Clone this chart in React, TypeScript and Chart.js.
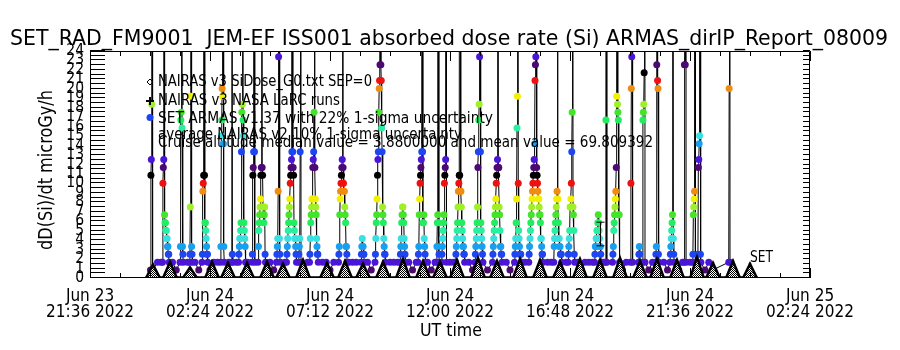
import React, { useEffect, useRef } from 'react';
import { Chart, registerables } from 'chart.js';
Chart.register(...registerables);

// ---------- text ----------
const titleText = 'SET_RAD_FM9001  JEM-EF ISS001 absorbed dose rate (Si) ARMAS_dirIP_Report_08009';
const xAxisTitle = 'UT time';
const yAxisTitle = 'dD(Si)/dt microGy/h';
const legendTexts = [
  'NAIRAS v3 SiDose_G0.txt SEP=0',
  'NAIRAS v3 NASA LaRC runs',
  'SET ARMAS v1.37 with 22% 1-sigma uncertainty',
  'average NAIRAS v2 10% 1-sigma uncertainty',
  'Cruise altitude median value = 3.8800000 and mean value = 69.809392',
];
const endLabel = 'SET';

// ---------- axes (x in hours since Jun 23 2022 21:36 UT) ----------
const xTickHours = [0, 4.8, 9.6, 14.4, 19.2, 24, 28.8];
const xTickLabels = [
  ['Jun 23', '21:36 2022'],
  ['Jun 24', '02:24 2022'],
  ['Jun 24', '07:12 2022'],
  ['Jun 24', '12:00 2022'],
  ['Jun 24', '16:48 2022'],
  ['Jun 24', '21:36 2022'],
  ['Jun 25', '02:24 2022'],
];
const yMin = 0;
const yMax = 24;

// ---------- SET ARMAS data ----------
const doseStep = 0.835; // microGy/h per count level
const setSampleMinutes = 1;
const setPassStartHours = [
  2.42, 2.9, 3.6, 3.98, 4.48, 5.22, 5.66, 5.94, 6.48, 6.72,
  7.46, 7.86, 8.34, 8.78, 9.94, 10.84, 11.4, 12.4, 13.12, 13.86,
  14.06, 14.62, 15.4, 16.1, 16.98, 17.55, 18.55, 19.12, 20.18, 20.62,
  20.9, 21.62, 21.94, 22.1, 22.62, 23.2, 23.76, 24.1, 24.3, 25.55,
];
const setPassCounts = [
  [1, 13, 15, 22, 200, 1],
  [2, 12, 14, 15, 200, 8, 7, 7, 6, 6, 5, 5, 4, 4, 3, 3, 2],
  [2, 4, 20, 21, 150, 19, 4, 3, 2],
  [2, 3, 9, 23, 200, 4, 3, 2],
  [2, 3, 11, 12, 13, 200, 13, 7, 7, 6, 5, 4, 3, 3, 2],
  [2, 4, 18, 20, 24, 23, 200, 17, 4, 2],
  [2, 200, 3, 2],
  [2, 3, 4, 5, 5, 6, 7, 16, 21, 22, 200, 20, 18, 7, 6, 5, 4, 2],
  [2, 3, 13, 14, 16, 200, 16, 2],
  [2, 4, 6, 7, 8, 9, 10, 13, 14, 300, 14, 13, 9, 8, 7, 8, 9, 3, 2],
  [2, 3, 4, 5, 11, 28, 300, 5, 3, 2],
  [2, 3, 4, 5, 6, 7, 8, 9, 10, 12, 13, 14, 15, 16, 300, 16, 14, 13, 7, 6, 5, 5, 4, 3, 2],
  [2, 3, 4, 5, 16, 200, 2],
  [2, 3, 5, 7, 8, 9, 10, 10, 14, 15, 16, 21, 200, 14, 10, 9, 8, 5, 4, 3, 3, 2],
  [2, 3, 4, 8, 10, 11, 12, 13, 14, 15, 300, 14, 12, 11, 11, 9, 8, 7, 4, 4, 3, 2],
  [2, 3, 4, 5, 4, 4, 3, 3, 2],
  [2, 3, 5, 7, 8, 10, 13, 15, 16, 21, 24, 25, 27, 300, 27, 25, 19, 16, 9, 8, 7, 5, 4, 3, 3, 2],
  [2, 3, 4, 5, 7, 8, 9, 9, 8, 7, 5, 4, 3, 2],
  [2, 3, 4, 8, 10, 12, 13, 14, 15, 16, 200, 16, 7, 7, 8, 5, 4, 3, 2],
  [2, 4, 7, 8, 200, 7, 3, 2],
  [2, 3, 4, 5, 6, 7, 8, 12, 13, 14, 15, 300, 2],
  [2, 3, 4, 5, 6, 7, 9, 11, 12, 13, 13, 200, 11, 11, 9, 7, 6, 5, 4, 4, 3, 3, 2],
  [2, 3, 4, 5, 6, 7, 9, 14, 16, 20, 22, 28, 300, 16, 7, 6, 5, 4, 3, 2],
  [2, 3, 4, 5, 6, 7, 8, 9, 10, 12, 13, 14, 15, 300, 14, 14, 9, 8, 6, 4, 4, 3, 3, 2],
  [2, 3, 4, 5, 7, 10, 19, 23, 200, 12, 6, 5, 4, 3, 3, 3, 2],
  [2, 3, 4, 5, 6, 7, 8, 9, 10, 11, 12, 13, 14, 15, 17, 25, 27, 28, 300, 14, 13, 12, 11, 10, 10, 9, 8, 8, 7, 5, 5, 4, 3, 3, 2],
  [2, 4, 5, 6, 7, 8, 9, 10, 11, 200, 10, 7, 5, 5, 4, 4, 3, 3, 3, 2],
  [2, 3, 4, 5, 6, 9, 9, 10, 12, 16, 21, 200, 9, 8, 6, 3, 2],
  [2, 3, 4, 4, 5, 5, 6, 6, 7, 8, 7, 6, 5, 4, 4, 3, 2],
  [2, 20, 200, 2],
  [2, 3, 4, 6, 7, 8, 9, 10, 11, 14, 23, 200, 22, 21, 20, 8, 8, 2],
  [2, 12, 24, 28, 200, 2],
  [2, 3, 4, 3, 2],
  [2, 20, 21, 22, 26, 200, 2],
  [2, 3, 4, 27, 200, 25, 24, 3, 2],
  [2, 3, 4, 5, 6, 7, 8, 200, 5, 3, 2],
  [2, 27, 200, 27, 200, 2],
  [2, 3, 8, 9, 10, 11, 200, 2],
  [2, 3, 14, 15, 17, 18, 200, 3, 2],
  [2, 24, 200, 2],
];
const setQuietStartHour = 2.55;
const setQuietStepHours = 0.15;
const setQuietCounts = [
  1, 2, 2, 1, 2, 2, 1, 2, 1, 2,
  2, 2, 1, 2, 2, 1, 2, 2, 2, 1,
  2, 1, 2, 2, 1, 2, 2, 2, 1, 2,
  2, 2, 1, 2, 1, 2, 2, 2, 1, 2,
  1, 2, 2, 2, 1, 2, 2, 1, 2, 2,
  2, 1, 2, 2, 2, 1, 2, 2, 1, 2,
  2, 2, 1, 2, 2, 2, 1, 2, 2, 1,
  2, 1, 2, 2, 1, 2, 2, 2, 1, 2,
  2, 2, 1, 2, 2, 1, 2, 2, 2, 1,
  2, 1, 2, 2, 2, 1, 2, 1, 2, 2,
  1, 2, 2, 1, 2, 2, 2, 1, 2, 2,
  2, 2, 1, 2, 1, 2, 2, 2, 1, 2,
  2, 1, 2, 2, 2, 1, 2, 2, 1, 2,
  2, 2, 1, 2, 2, 1, 2, 1, 2, 2,
  1, 2, 2, 2, 1, 2, 2, 1, 2, 1,
];
const errorBarHour = 20.4;
const errorBarLow = 3.4;
const errorBarHigh = 5.9;

// ---------- NAIRAS model ----------
const nairasPeakHours = [
  2.52, 3.2, 4.0, 4.88, 5.52, 6.28, 7.08, 7.72, 8.52, 9.48,
  10.2, 10.92, 11.72, 12.52, 13.32, 14.0, 14.68, 15.52, 16.28, 17.2,
  18.0, 18.8, 19.6, 20.4, 21.2, 22.0, 22.68, 23.48, 24.28, 24.92,
  25.72, 26.4,
];
const nairasPeakDose = [
  1.4, 1.7, 1.1, 1.7, 1.6, 1.6, 1.7, 1.5, 1.9, 1.6,
  1.8, 1.5, 1.7, 2.0, 1.8, 1.7, 1.9, 2.1, 1.8, 2.0,
  1.9, 1.7, 2.0, 1.9, 2.1, 1.8, 2.0, 1.9, 2.2, 1.6,
  1.8, 1.5,
];
const nairasFloorDose = 0.05;
const nairasHalfWidthHours = 0.27;

// ---------- styles ----------
const levelPalette = [
  '#4c0873', '#4a16d6', '#1e46f0', '#18a0f0', '#38e0e0', '#28f0a0', '#22ec60',
  '#44e42a', '#a0f028', '#f0f000', '#f08c10', '#f01010', '#000000',
];
const FONT = '"DejaVu Sans Condensed", "DejaVu Sans"';

function levelColor(v: number) {
  const n = Math.round(v / doseStep);
  const idx = (((n - 1) % 13) + 13) % 13;
  return levelPalette[idx];
}

function fitText(ctx: CanvasRenderingContext2D, text: string, x: number, y: number, width: number, size: number, align: 'left' | 'center', rotate = 0) {
  ctx.save();
  ctx.font = `${size}px ${FONT}`;
  const w = ctx.measureText(text).width;
  ctx.translate(x, y);
  if (rotate) ctx.rotate(rotate);
  ctx.scale(width / w, 1);
  ctx.textAlign = align;
  ctx.textBaseline = 'alphabetic';
  ctx.fillStyle = '#000';
  ctx.fillText(text, 0, 0);
  ctx.restore();
}

const overlayPlugin = {
  id: 'overlay',
  afterDraw(chart: any) {
    const { ctx, chartArea: a } = chart;
    const xs = chart.scales.x;
    const ys = chart.scales.y;
    ctx.save();
    ctx.strokeStyle = '#000';
    ctx.lineWidth = 1;
    // frame
    ctx.beginPath();
    ctx.rect(Math.round(a.left) + 0.5, Math.round(a.top) + 0.5, Math.round(a.right - a.left) - 1, Math.round(a.bottom - a.top) - 1);
    ctx.stroke();
    // y ticks
    ctx.beginPath();
    for (let k = 0; k <= (yMax - yMin) * 2; k++) {
      const py = Math.round(ys.getPixelForValue(yMin + k / 2)) - 0.5;
      ctx.moveTo(a.left, py); ctx.lineTo(a.left + 15, py);
      ctx.moveTo(a.right - 7, py); ctx.lineTo(a.right, py);
    }
    // x ticks
    const span = xTickHours[xTickHours.length - 1];
    for (let k = 0; k <= 24; k++) {
      const h = (span * k) / 24;
      const px = Math.round(xs.getPixelForValue(h)) + 0.5;
      const len = k % 4 === 0 ? 10 : 5;
      ctx.moveTo(px, a.bottom); ctx.lineTo(px, a.bottom - len);
      ctx.moveTo(px, a.top); ctx.lineTo(px, a.top + len);
    }
    ctx.stroke();
    // error bar
    const ex = Math.round(xs.getPixelForValue(errorBarHour)) + 0.5;
    const e1 = ys.getPixelForValue(errorBarLow);
    const e2 = ys.getPixelForValue(errorBarHigh);
    ctx.beginPath();
    ctx.moveTo(ex, e1); ctx.lineTo(ex, e2);
    ctx.moveTo(ex - 4, e1); ctx.lineTo(ex + 4, e1);
    ctx.moveTo(ex - 4, e2); ctx.lineTo(ex + 4, e2);
    ctx.stroke();

    // legend markers
    ctx.beginPath();
    ctx.moveTo(150, 79); ctx.lineTo(153, 82); ctx.lineTo(150, 85); ctx.lineTo(147, 82); ctx.closePath();
    ctx.stroke();
    ctx.lineWidth = 2;
    ctx.beginPath();
    ctx.moveTo(146, 101); ctx.lineTo(154, 101);
    ctx.moveTo(150, 97); ctx.lineTo(150, 105);
    ctx.stroke();
    ctx.fillStyle = '#1e46f0';
    ctx.beginPath();
    ctx.arc(150, 117.5, 3.5, 0, Math.PI * 2);
    ctx.fill();

    // texts
    fitText(ctx, titleText, 449, 45, 878, 21, 'center');
    const legendBase = [86, 105, 123, 139, 147];
    const legendWidth = [214, 182, 335, 304, 495];
    legendTexts.forEach((t, i) => fitText(ctx, t, 158, legendBase[i], legendWidth[i], 15, 'left'));
    fitText(ctx, endLabel, 750, 262, 23, 15, 'left');
    fitText(ctx, xAxisTitle, 451, 336, 62, 17, 'center');
    fitText(ctx, yAxisTitle, 52, 170, 160, 20, 'center', -Math.PI / 2);
    ctx.restore();
  },
};

export default function App() {
  const ref = useRef<HTMLCanvasElement>(null);
  useEffect(() => {
    const canvas = ref.current!;
    // SET samples
    const passPts: { x: number; y: number }[] = [];
    const ranges: [number, number][] = [];
    setPassStartHours.forEach((h0, i) => {
      const counts = setPassCounts[i];
      counts.forEach((c, k) => passPts.push({ x: h0 + (k * setSampleMinutes) / 60, y: c * doseStep }));
      ranges.push([h0 - 0.05, h0 + ((counts.length - 1) * setSampleMinutes) / 60 + 0.05]);
    });
    const quietPts = setQuietCounts
      .map((c, k) => ({ x: setQuietStartHour + k * setQuietStepHours, y: c * doseStep }))
      .filter((p) => !ranges.some(([lo, hi]) => p.x >= lo && p.x <= hi));
    const setPts = [...passPts, ...quietPts].sort((p, q) => p.x - q.x);

    const nairasPts: { x: number; y: number }[] = [];
    nairasPeakHours.forEach((h, i) => {
      nairasPts.push({ x: h - nairasHalfWidthHours, y: nairasFloorDose });
      nairasPts.push({ x: h, y: nairasPeakDose[i] });
      nairasPts.push({ x: h + nairasHalfWidthHours, y: nairasFloorDose });
    });

    // checker pattern for NAIRAS fill
    const pc = document.createElement('canvas');
    pc.width = 2; pc.height = 2;
    const pctx = pc.getContext('2d')!;
    pctx.fillStyle = '#fff'; pctx.fillRect(0, 0, 2, 2);
    pctx.fillStyle = '#000'; pctx.fillRect(0, 0, 1, 1); pctx.fillRect(1, 1, 1, 1);
    const pattern = canvas.getContext('2d')!.createPattern(pc, 'repeat');

    const chart = new Chart(canvas, {
      type: 'line',
      data: {
        datasets: [
          {
            label: 'NAIRAS v3',
            data: nairasPts,
            borderColor: '#000',
            borderWidth: 2.5,
            backgroundColor: pattern as any,
            fill: 'origin',
            pointRadius: 1.5,
            pointStyle: 'rectRot',
            pointBackgroundColor: '#000',
            pointBorderWidth: 0,
            tension: 0,
            order: 0,
          },
          {
            label: 'SET ARMAS',
            data: setPts,
            borderColor: '#000',
            borderWidth: 1,
            fill: false,
            pointRadius: 3.5,
            pointBorderWidth: 0,
            pointBorderColor: 'rgba(0,0,0,0)',
            pointBackgroundColor: (c: any) => levelColor(c.raw ? c.raw.y : 0),
            tension: 0,
            order: 1,
          },
        ],
      },
      options: {
        responsive: false,
        animation: false,
        layout: { padding: { top: 51, right: 90, left: 0, bottom: 0 } },
        plugins: { legend: { display: false }, title: { display: false }, tooltip: { enabled: false } },
        scales: {
          x: {
            type: 'linear',
            min: 0,
            max: xTickHours[xTickHours.length - 1],
            grid: { display: false, drawTicks: false },
            border: { display: false },
            afterBuildTicks: (s: any) => { s.ticks = xTickHours.map((v) => ({ value: v })); },
            afterFit: (s: any) => { s.height = 72; },
            ticks: {
              autoSkip: false,
              maxRotation: 0,
              padding: 11,
              color: '#000',
              font: { family: FONT, size: 17, lineHeight: '16px' },
              callback: (_v: any, i: number) => xTickLabels[i],
            },
          },
          y: {
            type: 'linear',
            min: yMin,
            max: yMax,
            grid: { display: false, drawTicks: false },
            border: { display: false },
            afterFit: (s: any) => { s.width = 90; },
            ticks: {
              stepSize: 1,
              autoSkip: false,
              padding: 6,
              color: '#000',
              font: { family: FONT, size: 15.5 },
            },
          },
        },
      },
      plugins: [overlayPlugin],
    });
    return () => chart.destroy();
  }, []);
  return (
    <div style={{ position: 'absolute', left: 0, top: 0, width: 900, height: 350, background: '#fff' }}>
      <canvas ref={ref} width={900} height={350} />
    </div>
  );
}
